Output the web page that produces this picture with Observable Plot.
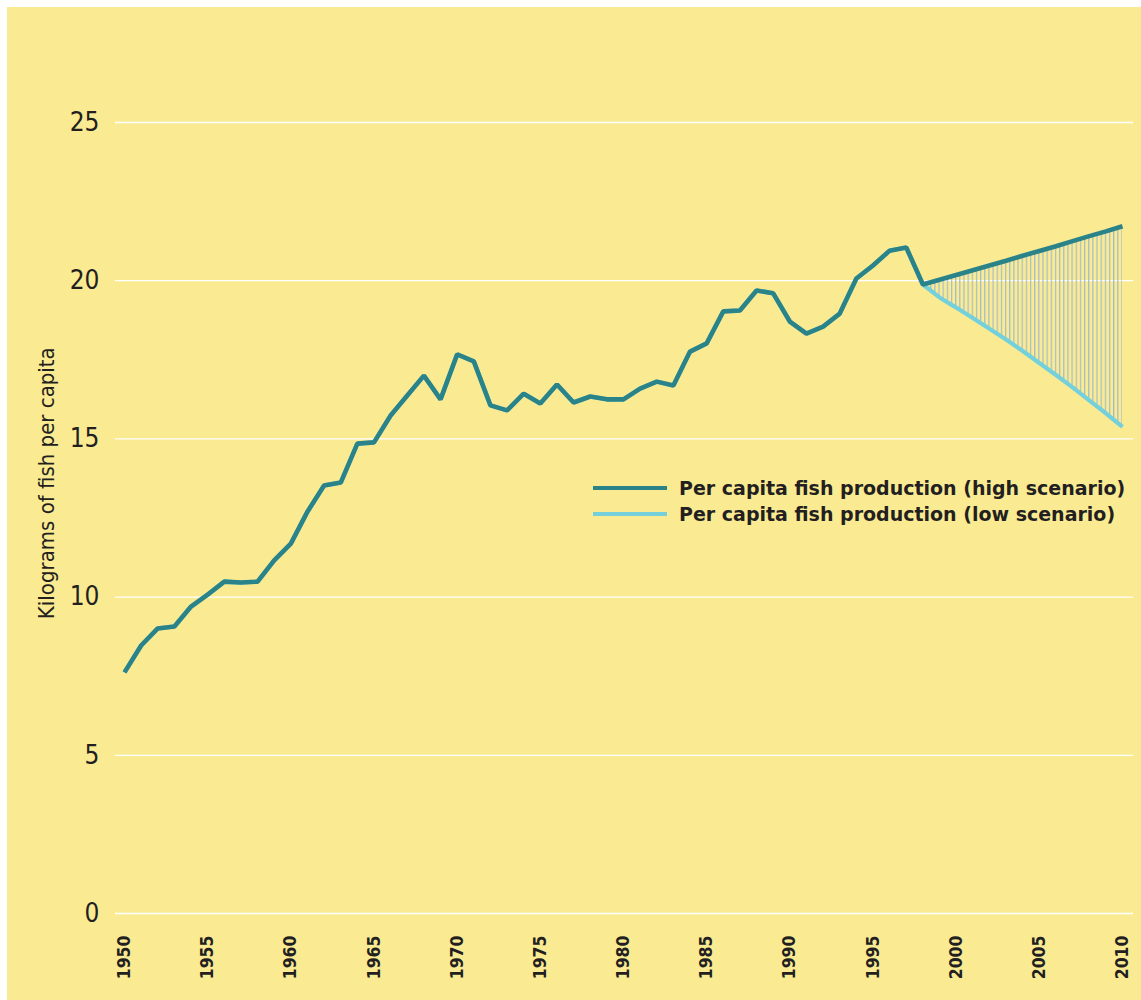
<!DOCTYPE html>
<html>
<head>
<meta charset="utf-8">
<script src="https://cdn.jsdelivr.net/npm/d3@7"></script>
<script src="https://cdn.jsdelivr.net/npm/@observablehq/plot@0.6"></script>
<style>
  html, body { margin: 0; padding: 0; background: #ffffff; }
  #frame { position: absolute; left: 7px; top: 7px; width: 1134px; height: 993px; background: #FAEB93; overflow: hidden; }
  #chart svg { display: block; }
  #chart svg text { font-stretch: condensed; }
  #legend { position: absolute; left: 586px; top: 468px; font-family: "DejaVu Sans", Verdana, sans-serif; font-weight: bold; font-size: 19px; color: #231F20; line-height: 26px; letter-spacing: 0px; }
  #legend .row { display: flex; align-items: center; white-space: nowrap; }
  #legend .sw { width: 74px; height: 4px; margin-right: 12px; }
</style>
</head>
<body>
<div id="frame">
  <div id="chart"></div>
  <div id="legend"></div>
</div>
<script>
// ---- data ----
const histYears = d3.range(1950, 1999);
const histValues = [
  7.62, 8.47, 9.01, 9.07, 9.70, 10.08, 10.49, 10.46, 10.49, 11.16,
  11.69, 12.70, 13.53, 13.62, 14.85, 14.89, 15.74, 16.37, 17.00, 16.25,
  17.67, 17.45, 16.06, 15.90, 16.43, 16.12, 16.72, 16.15, 16.34, 16.25,
  16.25, 16.59, 16.81, 16.69, 17.76, 18.02, 19.03, 19.06, 19.69, 19.60,
  18.71, 18.33, 18.55, 18.96, 20.07, 20.48, 20.95, 21.05, 19.88
];
const projYears = d3.range(1998, 2011);
const highValues = [19.88, 20.03, 20.18, 20.33, 20.48, 20.63, 20.79, 20.94, 21.09, 21.25, 21.41, 21.56, 21.72];
const lowValues  = [19.82, 19.47, 19.15, 18.82, 18.48, 18.14, 17.78, 17.40, 17.02, 16.63, 16.22, 15.81, 15.38];
const xTicks = d3.range(1950, 2011, 5);
const yTicks = [0, 5, 10, 15, 20, 25];
const yLabel = "Kilograms of fish per capita";
const legendLabels = ["Per capita fish production (high scenario)", "Per capita fish production (low scenario)"];

const darkColor = "#2A8389";
const lightColor = "#74D0DB";
const hatchColor = "#A3BCCB";
const condensed = "'DejaVu Sans Condensed', 'Liberation Sans Narrow', 'DejaVu Sans', sans-serif";

// ---- tables built from arrays ----
const hist = histYears.map((y, i) => ({year: y, value: histValues[i]}));
const high = projYears.map((y, i) => ({year: y, value: highValues[i]}));
const low = projYears.map((y, i) => ({year: y, value: lowValues[i]}));
const band = projYears.map((y, i) => ({year: y, lo: lowValues[i], hi: highValues[i]}));

const W = 1134, H = 993;
const plot = Plot.plot({
  width: W,
  height: H,
  marginLeft: 117,
  marginRight: 19,
  marginTop: 115,
  marginBottom: 87,
  style: {background: "transparent", overflow: "visible"},
  x: {domain: [1950, 2010]},
  y: {domain: [0, 25]},
  marks: [
    Plot.ruleY(yTicks, {stroke: "#ffffff", strokeWidth: 1.3, insetLeft: -9, insetRight: -11}),
    Plot.axisY({ticks: yTicks, tickSize: 0, tickPadding: 25, label: null,
      fontSize: 26, fontFamily: condensed, fill: "#231F20"}),
    Plot.axisX({ticks: xTicks, tickFormat: d => String(d), tickSize: 0, tickPadding: 22, tickRotate: -90, label: null,
      fontSize: 17.5, fontWeight: "bold", fontFamily: condensed, fill: "#231F20"}),
    Plot.text([yLabel], {frameAnchor: "left", y: [13.6], text: d => d, rotate: -90, dx: -78, textAnchor: "middle",
      fontSize: 22, fontFamily: condensed, fill: "#231F20"}),
    Plot.areaY(band, {x: "year", y1: "lo", y2: "hi", fill: "url(#hatch)"}),
    Plot.line(hist.concat(low.slice(1)), {x: "year", y: "value", stroke: lightColor, strokeWidth: 4.2, strokeLinejoin: "miter", strokeLinecap: "butt"}),
    Plot.line(hist.concat(high.slice(1)), {x: "year", y: "value", stroke: darkColor, strokeWidth: 4.6, strokeLinejoin: "miter", strokeLinecap: "butt"})
  ]
});

// pattern for the hatched band: vertical lines every quarter year
const xs = plot.scale("x");
const step = (xs.apply(1951) - xs.apply(1950)) / 4;
const x0 = xs.apply(1998);
const ns = "http://www.w3.org/2000/svg";
const defs = document.createElementNS(ns, "defs");
const pat = document.createElementNS(ns, "pattern");
pat.setAttribute("id", "hatch");
pat.setAttribute("patternUnits", "userSpaceOnUse");
pat.setAttribute("x", x0 - 0.6);
pat.setAttribute("y", 0);
pat.setAttribute("width", step);
pat.setAttribute("height", 10);
const ln = document.createElementNS(ns, "rect");
ln.setAttribute("x", 0);
ln.setAttribute("y", 0);
ln.setAttribute("width", 1.2);
ln.setAttribute("height", 10);
ln.setAttribute("fill", hatchColor);
pat.appendChild(ln);
defs.appendChild(pat);
plot.insertBefore(defs, plot.firstChild);

document.getElementById("chart").appendChild(plot);

// legend
const legend = document.getElementById("legend");
[[darkColor, legendLabels[0]], [lightColor, legendLabels[1]]].forEach(([c, t]) => {
  const row = document.createElement("div");
  row.className = "row";
  const sw = document.createElement("span");
  sw.className = "sw";
  sw.style.background = c;
  const tx = document.createElement("span");
  tx.textContent = t;
  row.appendChild(sw);
  row.appendChild(tx);
  legend.appendChild(row);
});
</script>
</body>
</html>
